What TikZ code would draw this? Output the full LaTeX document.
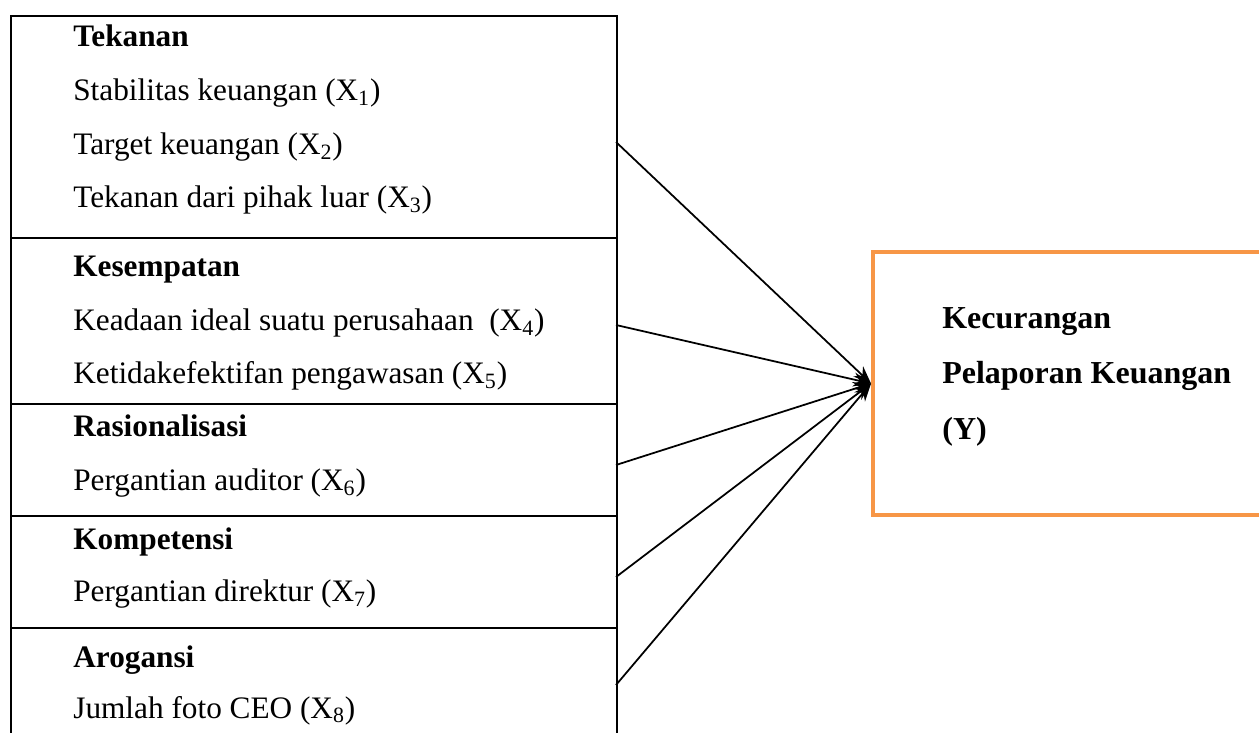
\documentclass[tikz,border=0pt]{standalone}
\usepackage{fontspec}
\setmainfont{Liberation Serif}
\usetikzlibrary{arrows.meta}
\definecolor{boxorange}{HTML}{F79646}
\begin{document}
\begin{tikzpicture}[x=0.02cm, y=-0.02cm, font=\fontsize{17.8}{21}\selectfont, >={Stealth[length=10pt, width=8pt]}]
    \useasboundingbox (0,0) rectangle (1259,733);
    \clip (0,0) rectangle (1259,733);

    % left box with the factors
    \node[draw, line width=1.1pt, anchor=north west, minimum width=12.12cm, minimum height=15cm, inner sep=0pt](factors) at (10,15) {};
    \foreach \y in {238, 404, 516, 628} {
        \draw[line width=1.1pt] (10,\y) -- (616,\y);
        }

    \foreach \y/\T in { 47/{\textbf{Tekanan}},
                       101/{Stabilitas keuangan (X\textsubscript{1})},
                       155/{Target keuangan (X\textsubscript{2})},
                       208/{Tekanan dari pihak luar (X\textsubscript{3})},
                       277/{\textbf{Kesempatan}},
                       331/{Keadaan ideal suatu perusahaan~ (X\textsubscript{4})},
                       384/{Ketidakefektifan pengawasan (X\textsubscript{5})},
                       437/{\textbf{Rasionalisasi}},
                       491/{Pergantian auditor (X\textsubscript{6})},
                       549/{\textbf{Kompetensi}},
                       602/{Pergantian direktur (X\textsubscript{7})},
                       667/{\textbf{Arogansi}},
                       718/{Jumlah foto CEO (X\textsubscript{8})}
        } {
        \node[anchor=base west, inner sep=0pt](item\y) at (73,\y) {\T};
        }

    % dependent variable
    \node[draw=boxorange, line width=2.3pt, anchor=north west, minimum width=10cm, minimum height=5.26cm, inner sep=0pt](fraud) at (871,250) {};
    \node[anchor=base west, inner sep=0pt, font=\fontsize{18.2}{21}\selectfont\bfseries](fraudA) at (942,329) {Kecurangan};
    \node[anchor=base west, inner sep=0pt, font=\fontsize{18.2}{21}\selectfont\bfseries](fraudB) at (942,384) {Pelaporan Keuangan};
    \node[anchor=base west, inner sep=0pt, font=\fontsize{18.2}{21}\selectfont\bfseries](fraudC) at (942,439) {(Y)};

    \foreach \y/\n in {142/1, 325/2, 465/3, 577/4, 685/5} {
        \coordinate (src\n) at (616,\y);
        \draw[->, line width=1pt] (src\n) -- (fraud.west);
        }
\end{tikzpicture}
\end{document}
